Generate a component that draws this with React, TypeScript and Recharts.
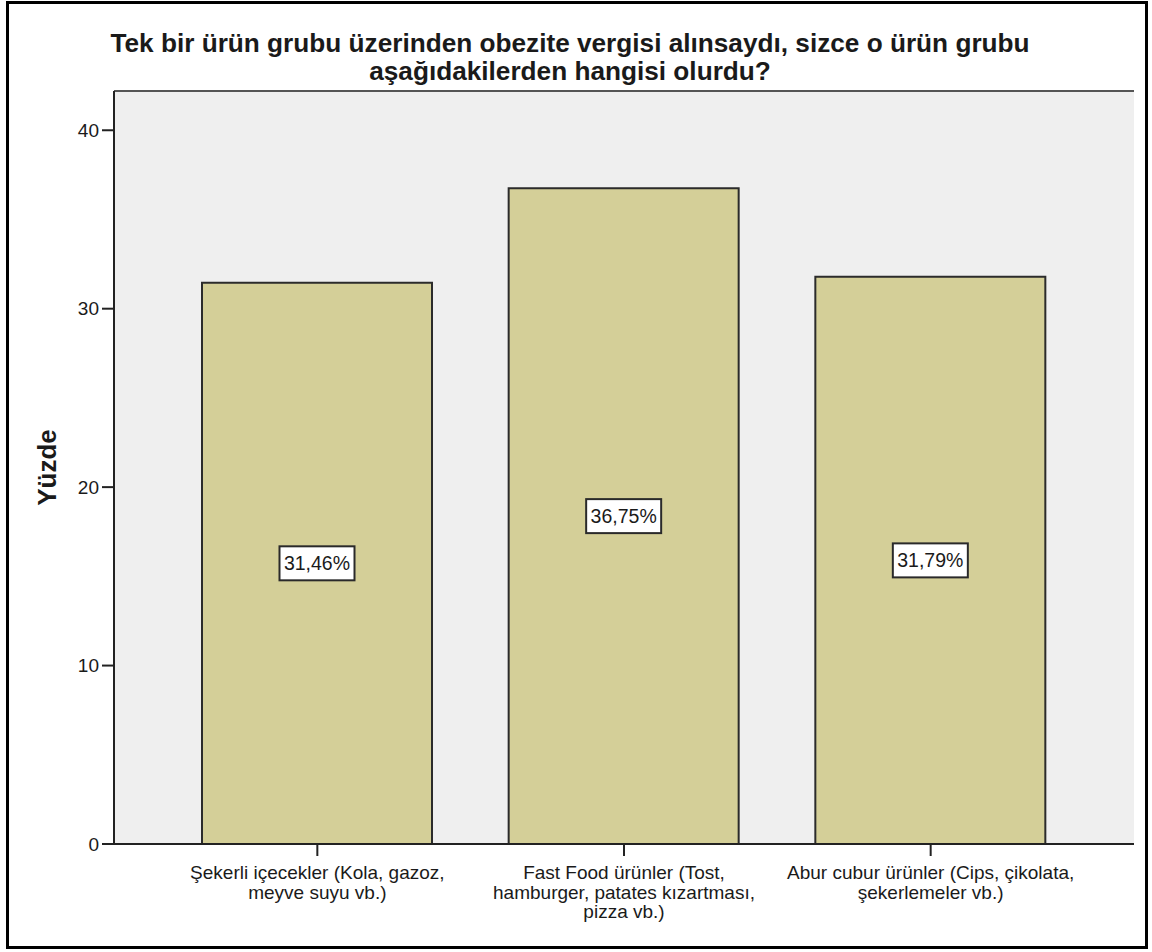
import { BarChart, Bar, XAxis, YAxis, CartesianGrid, LabelList, ReferenceLine } from "recharts"

const categories = [
  "Şekerli içecekler (Kola, gazoz,\nmeyve suyu vb.)",
  "Fast Food ürünler (Tost,\nhamburger, patates kızartması,\npizza vb.)",
  "Abur cubur ürünler (Cips, çikolata,\nşekerlemeler vb.)",
]
const percents = [31.46, 36.75, 31.79]
const yTicks = [0, 10, 20, 30, 40]
const yMax = 42.2

const titleLines = [
  "Tek bir ürün grubu üzerinden obezite vergisi alınsaydı, sizce o ürün grubu",
  "aşağıdakilerden hangisi olurdu?",
]
const yTitle = "Yüzde"

const data = categories.map((name, i) => ({ name, value: percents[i] }))

const FONT = "'Liberation Sans', Arial, sans-serif"
const INK = "#1a1a1a"

const fmtPct = (v: number) => v.toFixed(2).replace(".", ",") + "%"

function CategoryTick(props: any) {
  const { x, y, payload } = props
  const lines = String(payload.value).split("\n")
  return (
    <text x={x} y={y} textAnchor="middle" fontFamily={FONT} fontSize={19} fill={INK}>
      {lines.map((line, i) => (
        <tspan key={i} x={x} dy={i === 0 ? 21 : 19.5}>
          {line}
        </tspan>
      ))}
    </text>
  )
}

function ValueBox(props: any) {
  const { x, y, width, height, value } = props
  const cx = x + width / 2
  const cy = y + height / 2
  const text = fmtPct(Number(value))
  const w = text.length * 11 + 9
  const h = 34
  return (
    <g>
      <rect x={cx - w / 2} y={cy - h / 2} width={w} height={h} fill="#fff" stroke="#2a2a2a" strokeWidth={2} />
      <text x={cx} y={cy + 7} textAnchor="middle" fontFamily={FONT} fontSize={19.5} fill={INK}>
        {text}
      </text>
    </g>
  )
}

function YTitle(props: any) {
  const { viewBox } = props
  const cy = viewBox.y + viewBox.height / 2
  const bx = viewBox.x + 56
  return (
    <text
      x={bx}
      y={cy}
      transform={`rotate(-90 ${bx} ${cy})`}
      textAnchor="middle"
      fontFamily={FONT}
      fontWeight="bold"
      fontSize={26}
      fill={INK}
    >
      {yTitle}
    </text>
  )
}

export default function App() {
  return (
    <div style={{ position: "absolute", left: 0, top: 0, width: 1152, height: 952, background: "#fff" }}>
      <div
        style={{
          position: "absolute",
          left: 6,
          top: 1,
          width: 1142,
          height: 948,
          boxSizing: "border-box",
          border: "3px solid #000",
        }}
      />
      <div
        style={{
          position: "absolute",
          left: 0,
          top: 29,
          width: 1140,
          textAlign: "center",
          fontFamily: FONT,
          fontWeight: "bold",
          fontSize: 26.2,
          lineHeight: "28px",
          color: INK,
          whiteSpace: "nowrap",
        }}
      >
        {titleLines.map((t, i) => (
          <div key={i}>{t}</div>
        ))}
      </div>
      <div style={{ position: "absolute", left: 0, top: 0 }}>
        <BarChart width={1152} height={952} data={data} margin={{ top: 91, right: 18, bottom: 0, left: 0 }}>
          <CartesianGrid fill="#efefef" stroke="none" />
          <XAxis
            dataKey="name"
            height={108}
            padding={{ left: 50, right: 50 }}
            interval={0}
            tick={<CategoryTick />}
            tickSize={12}
            tickMargin={2}
            tickLine={{ stroke: "#222", strokeWidth: 2 }}
            axisLine={{ stroke: "#222", strokeWidth: 2 }}
          />
          <YAxis
            width={114}
            domain={[0, yMax]}
            ticks={yTicks}
            allowDataOverflow
            tickSize={12}
            tickMargin={3}
            tick={{ fontFamily: FONT, fontSize: 19, fill: INK }}
            tickLine={{ stroke: "#222", strokeWidth: 2 }}
            axisLine={{ stroke: "#222", strokeWidth: 2 }}
            label={<YTitle />}
          />
          <YAxis
            yAxisId="right"
            orientation="right"
            width={0}
            tick={false}
            tickLine={false}
            axisLine={{ stroke: "#555", strokeWidth: 2 }}
          />
          {/* top edge of the plot frame */}
          <ReferenceLine y={yMax} stroke="#555" strokeWidth={2} ifOverflow="extendDomain" />
          <Bar
            dataKey="value"
            barSize={230}
            fill="#d4cf98"
            stroke="#2b2b2b"
            strokeWidth={2}
            isAnimationActive={false}
          >
            <LabelList dataKey="value" content={<ValueBox />} />
          </Bar>
        </BarChart>
      </div>
    </div>
  )
}
